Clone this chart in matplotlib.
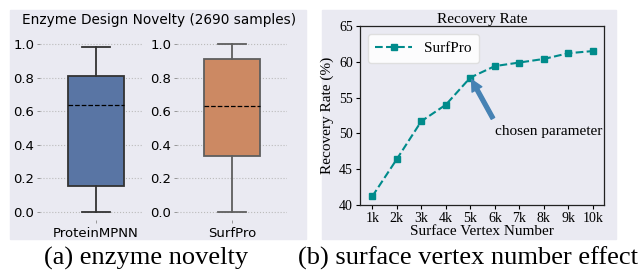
import matplotlib.pyplot as plt
from matplotlib.patches import Rectangle
import numpy as np

# box stats
methods = ["ProteinMPNN", "SurfPro"]
whislo = [0.0, 0.0]
q1 = [0.155, 0.335]
med = [0.635, 0.63]
q3 = [0.81, 0.912]
whishi = [0.985, 1.0]
box_colors = ["#5975A4", "#CC8963"]
line_colors = ["#333333", "#5e5e5e"]

# recovery rate vs surface vertex number
vertex_labels = ["1k", "2k", "3k", "4k", "5k", "6k", "7k", "8k", "9k", "10k"]
recovery = [41.2, 46.4, 51.7, 54.0, 57.8, 59.4, 59.9, 60.4, 61.2, 61.5]

W, H = 642, 273
fig = plt.figure(figsize=(W / 100, H / 100), dpi=100)
fig.patch.set_facecolor("white")

def box(l, t, r, b):
    # pixel box (from top-left) -> figure fraction rect
    return [l / W, 1 - b / H, (r - l) / W, (b - t) / H]

bg = "#EAEAF2"
fig.patches.append(Rectangle((10 / W, 1 - 239 / H), 296 / W, 229 / H,
                             transform=fig.transFigure, color=bg, zorder=-5))
fig.patches.append(Rectangle((322 / W, 1 - 239 / H), 294 / W, 229 / H,
                             transform=fig.transFigure, color=bg, zorder=-5))

#LEFT PANEL
ax_rects = [box(40, 35.6, 143, 220.4), box(177, 35.6, 287, 220.4)]
xlims = [(-0.544, 0.456), (-0.5, 0.5)]
widths = [0.544, 0.51]
for i in range(2):
    ax = fig.add_axes(ax_rects[i])
    ax.set_facecolor("none")
    stats = [dict(whislo=whislo[i], q1=q1[i], med=med[i], q3=q3[i], whishi=whishi[i], fliers=[])]
    lc = line_colors[i]
    ax.bxp(stats, positions=[0], widths=widths[i], patch_artist=True,
           boxprops=dict(facecolor=box_colors[i], edgecolor=lc, linewidth=1.3),
           whiskerprops=dict(color=lc, linewidth=1.3),
           capprops=dict(color=lc, linewidth=1.3),
           medianprops=dict(color="black", linestyle="--", linewidth=0.9),
           showfliers=False, zorder=3)
    ax.set_xlim(*xlims[i])
    ax.set_ylim(-0.05, 1.05)
    ax.set_yticks([0.0, 0.2, 0.4, 0.6, 0.8, 1.0])
    ax.set_yticklabels(["0.0", "0.2", "0.4", "0.6", "0.8", "1.0"])
    ax.set_xticks([0])
    ax.set_xticklabels([methods[i]])
    ax.tick_params(axis="y", length=2.5, width=0.6, color="#888888", pad=1.5, labelsize=9.5)
    ax.tick_params(axis="x", length=2, width=0.6, color="#888888", pad=3, labelsize=9.5)
    ax.yaxis.grid(True, linestyle=":", color="#bbbbbb", linewidth=0.8, zorder=0)
    ax.set_axisbelow(True)
    for s in ax.spines.values():
        s.set_visible(False)

fig.text(159.5 / W, 1 - 20 / H, "Enzyme Design Novelty (2690 samples)",
         ha="center", va="center", fontsize=9.8)

#RIGHT PANEL
serif = "Liberation Serif"
ax = fig.add_axes(box(360, 26, 604, 205))
ax.set_facecolor(bg)
x = np.arange(1, len(recovery) + 1)
ax.plot(x, recovery, color="#008B8B", linestyle="--", linewidth=1.5,
        marker="s", markersize=5, label="SurfPro")
ax.set_xlim(0.5, 10.45)
ax.set_ylim(40, 65)
ax.set_xticks(x)
ax.set_xticklabels(vertex_labels, fontfamily=serif, fontsize=10)
ax.set_yticks([40, 45, 50, 55, 60, 65])
ax.set_yticklabels(["40", "45", "50", "55", "60", "65"], fontfamily=serif, fontsize=10)
ax.tick_params(length=3, width=0.8, pad=2)
for s in ax.spines.values():
    s.set_color("#222222")
    s.set_linewidth(0.9)
ax.set_title("Recovery Rate", fontfamily=serif, fontsize=11, pad=2)
ax.set_xlabel("Surface Vertex Number", fontfamily=serif, fontsize=11, labelpad=0)
ax.set_ylabel("Recovery Rate (%)", fontfamily=serif, fontsize=11, labelpad=4)
ax.legend(loc="upper left", prop=dict(family=serif, size=11), handlelength=2.4,
          borderpad=0.5, fancybox=True, framealpha=0.9, edgecolor="#dddddd")
ax.annotate("", xy=(5.05, 57.5), xytext=(5.92, 52.1),
            arrowprops=dict(facecolor="#4682B4", edgecolor="#4682B4", width=2.8,
                            headwidth=8, headlength=8, shrink=0))
ax.text(6.0, 50.3, "chosen parameter", fontfamily=serif, fontsize=11,
        ha="left", va="center")

#CAPTIONS
fig.text(146 / W, 1 - 258 / H, "(a) enzyme novelty", fontfamily=serif,
         fontsize=19, ha="center", va="center")
fig.text(468 / W, 1 - 258 / H, "(b) surface vertex number effect", fontfamily=serif,
         fontsize=19, ha="center", va="center")

fig.savefig("out.png", dpi=100)
